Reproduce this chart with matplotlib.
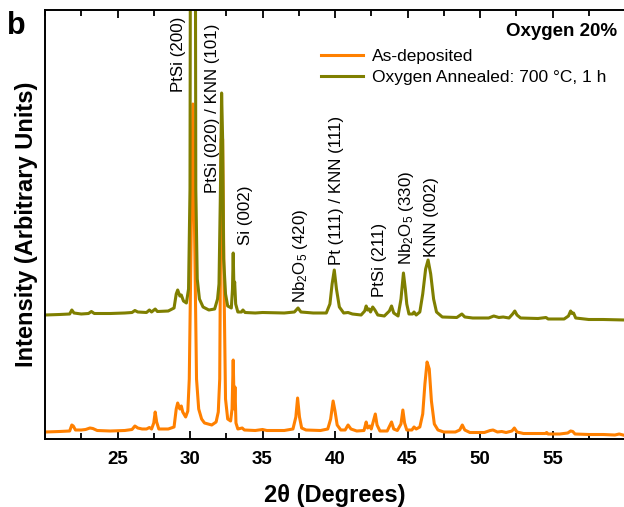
import matplotlib
matplotlib.use("Agg")
from matplotlib import pyplot as plt
from matplotlib.ticker import MultipleLocator

plt.rcParams['font.family'] = ['Liberation Sans', 'DejaVu Sans']
plt.rcParams['mathtext.default'] = 'regular'

# 2-theta (deg) and intensity (arb.)
as_dep_x = [20.0, 21.0, 21.7, 21.85, 21.95, 22.1, 22.5, 22.8, 23.1, 23.3, 23.6, 24.5, 25.5, 26.0,
            26.2, 26.4, 26.7, 27.0, 27.2, 27.35, 27.5, 27.6, 27.7, 27.85, 28.5, 28.9, 29.05, 29.15,
            29.3, 29.4, 29.5, 29.7, 29.85, 29.95, 30.08, 30.2, 30.32, 30.45, 30.6, 30.8, 31.0, 31.5,
            31.8, 31.95, 32.05, 32.15, 32.25, 32.35, 32.45, 32.6, 32.8, 32.9, 32.98, 33.05, 33.1,
            33.17, 33.3, 33.6, 33.75, 34.5, 35.0, 35.3, 36.5, 37.1, 37.3, 37.42, 37.55, 37.7, 38.0,
            39.0, 39.5, 39.7, 39.87, 40.0, 40.15, 40.4, 40.7, 40.9, 41.1, 41.5, 42.0, 42.15, 42.25,
            42.4, 42.5, 42.65, 42.78, 42.9, 43.1, 43.6, 43.8, 43.9, 44.05, 44.3, 44.55, 44.68, 44.8,
            44.95, 45.3, 45.45, 45.6, 45.85, 46.05, 46.2, 46.35, 46.5, 46.65, 46.85, 47.1, 47.5,
            48.3, 48.6, 48.78, 48.95, 49.3, 50.3, 50.7, 50.9, 51.2, 51.5, 51.8, 52.2, 52.37, 52.55,
            53.0, 54.5, 54.6, 54.7, 55.5, 56.05, 56.25, 56.4, 56.55, 57.5, 58.5, 59.3, 59.6, 60.0]
as_dep_y = [7, 7.5, 8, 14, 13, 9, 9, 9.5, 11, 10.5, 8.5, 8, 8.5, 9.5,
            13, 11, 10, 10, 11.5, 10, 16, 27, 17, 10, 10, 12, 30, 36,
            30, 33, 27, 22, 28, 60, 200, 335, 200, 60, 30, 20, 16, 14,
            17, 27, 60, 300, 300, 150, 40, 20, 18, 30, 79, 30, 52,
            16, 10, 11, 9, 8.5, 9.5, 8.5, 8.5, 10, 22, 41, 22, 11, 9,
            8.5, 10, 20, 38, 28, 14, 9, 9, 14, 10, 8, 8.5, 17, 11,
            13, 10, 18, 25, 14, 8, 8, 14, 17, 10, 8.5, 15, 29, 16,
            9, 9, 12, 10, 12, 25, 55, 77, 70, 38, 15, 9, 7,
            7, 9, 14, 9, 6.5, 6.5, 8.5, 9, 7, 7.5, 6.5, 8, 11, 7,
            5.5, 5.5, 6.5, 5, 5, 6, 8, 7.5, 5, 4.5, 4.5, 4, 5, 3.5]

annealed_x = [20.0, 21.0, 21.7, 21.85, 22.0, 22.5, 23.0, 23.2, 23.4, 24.5, 25.5, 26.0, 26.2, 26.4,
              27.0, 27.2, 27.35, 27.6, 27.75, 28.5, 28.9, 29.05, 29.15, 29.3, 29.4, 29.55, 29.75,
              29.9, 30.0, 30.06, 30.34, 30.4, 30.5, 30.65, 30.9, 31.3, 31.7, 31.9, 32.0, 32.1, 32.18,
              32.25, 32.32, 32.45, 32.6, 32.85, 32.93, 32.98, 33.03, 33.08, 33.15, 33.3, 33.55, 33.65,
              33.8, 34.5, 35.0, 36.5, 37.2, 37.45, 37.65, 38.5, 39.4, 39.65, 39.8, 39.95, 40.1, 40.3,
              40.6, 40.9, 41.2, 41.8, 42.05, 42.15, 42.25, 42.35, 42.45, 42.6, 42.75, 42.95, 43.4,
              43.75, 43.9, 44.05, 44.35, 44.55, 44.72, 44.85, 44.95, 45.1, 45.35, 45.45, 45.6, 45.85,
              46.05, 46.25, 46.42, 46.6, 46.8, 47.0, 47.4, 48.4, 48.75, 48.95, 49.5, 50.6, 50.95,
              51.3, 51.6, 52.0, 52.25, 52.4, 52.55, 52.8, 54.0, 54.55, 54.7, 55.8, 56.1, 56.25, 56.35,
              56.45, 56.6, 57.5, 58.5, 60.0]
annealed_y = [124, 124.5, 125, 129, 126, 125, 125.5, 127.5, 125.5, 125.5, 126, 126.5, 128.5, 127,
              126.5, 129, 127, 130, 127.5, 128, 131, 145, 149, 143, 144, 138, 136,
              150, 250, 800, 800, 250, 160, 140, 132, 129, 130, 140, 155, 250, 346,
              300, 180, 145, 133, 131, 150, 186, 150, 157, 135, 127, 127, 129,
              126.5, 126, 126.5, 126, 127, 131, 127, 126, 126, 135, 155, 169, 150, 132,
              126, 126.5, 125, 124, 128, 133, 129, 130, 127, 132, 129, 124, 123,
              128, 133, 126, 123, 140, 166, 150, 135, 125, 125, 127, 124, 127,
              145, 170, 179, 165, 140, 127, 122, 121.5, 125, 122, 121, 121, 123,
              121.5, 122, 121, 125, 128, 124, 121, 120.5, 121.5, 120, 120, 123, 128, 125.5,
              126, 121, 119.5, 119.5, 119]

peak_labels = ['PtSi (200)', 'PtSi (020) / KNN (101)', 'Si (002)', r'Nb$_2$O$_5$ (420)',
               'Pt (111) / KNN (111)', 'PtSi (211)', r'Nb$_2$O$_5$ (330)', 'KNN (002)']
label_x = [29.24, 31.53, 33.82, 37.64, 40.07, 43.06, 44.93, 46.67]
label_y = [347, 246, 194, 136, 174, 142, 174, 182]

fig = plt.figure(figsize=(6.24, 5.07), dpi=100)
ax = fig.add_axes([45 / 624, 68 / 507, 580 / 624, 429 / 507])

ax.plot(as_dep_x, as_dep_y, color='#ff8000', lw=2.2, label='As-deposited')
ax.plot(annealed_x, annealed_y, color='#7f7f00', lw=2.2, label='Oxygen Annealed: 700 °C, 1 h')

for txt, lx, ly in zip(peak_labels, label_x, label_y):
    ax.text(lx, ly, txt, rotation=90, ha='center', va='bottom', fontsize=12.2)

ax.set_xlim(20, 60)
ax.set_ylim(0, 429)
ax.set_xticks([25, 30, 35, 40, 45, 50, 55])
ax.xaxis.set_minor_locator(MultipleLocator(2.5))
ax.set_yticks([])
ax.tick_params(axis='x', which='both', direction='in', top=True, width=1.3, pad=9,
               labelsize=13.5)
ax.tick_params(axis='x', which='major', length=6)
ax.tick_params(axis='x', which='minor', length=4)
for lab in ax.get_xticklabels():
    lab.set_fontweight('bold')
for sp in ax.spines.values():
    sp.set_linewidth(1.4)

ax.set_xlabel('2θ (Degrees)', fontsize=17, fontweight='bold', labelpad=11)
ax.set_ylabel('Intensity (Arbitrary Units)', fontsize=17, fontweight='bold', labelpad=5)

ax.legend(loc='upper left', bbox_to_anchor=(0.4767, 0.909), frameon=False, fontsize=12.5,
          handlelength=2.4, handletextpad=0.5, labelspacing=0.35, borderpad=0, borderaxespad=0)
fig.text(617 / 624, 1 - 32 / 507, 'Oxygen 20%', ha='right', va='center', fontsize=13.5,
         fontweight='bold')
fig.text(7 / 624, 1 - 26 / 507, 'b', ha='left', va='center', fontsize=22, fontweight='bold')

fig.savefig('out.png', dpi=100)
